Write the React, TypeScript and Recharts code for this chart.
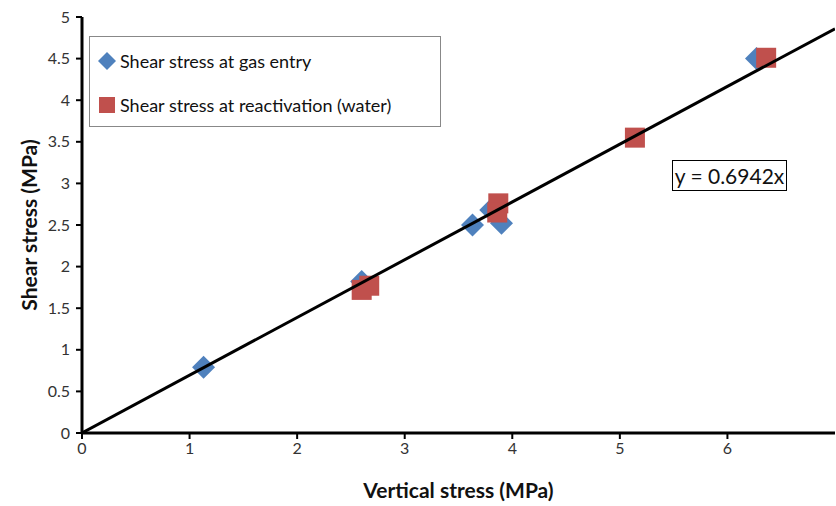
import React from 'react';
import { ScatterChart, Scatter, XAxis, YAxis } from 'recharts';

// shear stress at gas entry (vertical stress, shear stress) in MPa
const gasEntryX = [1.13, 2.6, 3.63, 3.8, 3.9, 6.27];
const gasEntryY = [0.79, 1.82, 2.5, 2.68, 2.52, 4.5];

// shear stress at reactivation (water)
const reactivationX = [2.6, 2.67, 3.87, 3.86, 5.14, 6.36];
const reactivationY = [1.72, 1.77, 2.76, 2.65, 3.55, 4.51];

// fitted line through the origin
const slope = 0.6942;
const fitX = [0, 7];

const xTicks = [0, 1, 2, 3, 4, 5, 6];
const yTicks = [0, 0.5, 1, 1.5, 2, 2.5, 3, 3.5, 4, 4.5, 5];

const BLUE = '#4F81BD';
const RED = '#C0504D';
const FONT = 'Lato, "Open Sans", sans-serif';

const gasEntry = gasEntryX.map((x, i) => ({ x, y: gasEntryY[i] }));
const reactivation = reactivationX.map((x, i) => ({ x, y: reactivationY[i] }));
const fit = fitX.map((x) => ({ x, y: slope * x }));

const Diamond = (p: any) => {
  const r = 11.5;
  return (
    <path
      d={`M${p.cx} ${p.cy - r} L${p.cx + r} ${p.cy} L${p.cx} ${p.cy + r} L${p.cx - r} ${p.cy} Z`}
      fill={BLUE}
    />
  );
};

const Square = (p: any) => <rect x={p.cx - 10} y={p.cy - 10} width={20} height={20} fill={RED} />;

function LegendBox() {
  const row = (marker: React.ReactNode, text: string) => (
    <div style={{ display: 'flex', alignItems: 'center', height: 44 }}>
      <svg width={22} height={22} style={{ marginRight: 2 }}>
        {marker}
      </svg>
      <span>{text}</span>
    </div>
  );
  return (
    <div
      style={{
        position: 'absolute',
        left: 89,
        top: 36,
        border: '1.5px solid #888',
        background: '#fff',
        width: 352,
        height: 91,
        padding: '2px 0 0 6px',
        boxSizing: 'border-box',
        fontFamily: FONT,
        fontSize: 18,
        color: '#111',
      }}
    >
      {row(<path d="M11 2 L20 11 L11 20 L2 11 Z" fill={BLUE} />, 'Shear stress at gas entry')}
      {row(<rect x={3} y={3} width={16} height={16} fill={RED} />, 'Shear stress at reactivation (water)')}
    </div>
  );
}

export default function App() {
  return (
    <div style={{ position: 'absolute', left: 0, top: 0, width: 836, height: 506, background: '#fff' }}>
      <ScatterChart width={836} height={506} margin={{ top: 17, right: 1, left: 0, bottom: 0 }}>
        <XAxis
          type="number"
          dataKey="x"
          domain={[0, 7]}
          ticks={xTicks}
          allowDataOverflow
          axisLine={{ stroke: '#000', strokeWidth: 3 }}
          tickLine={{ stroke: '#000', strokeWidth: 2 }}
          tickSize={6}
          tickMargin={4}
          tick={{ fill: '#333', fontSize: 16, fontFamily: FONT }}
          height={73}
          label={{
            value: 'Vertical stress (MPa)',
            position: 'insideBottom',
            offset: 8,
            style: { fill: '#111', fontSize: 21, fontWeight: 700, fontFamily: FONT },
          }}
        />
        <YAxis
          type="number"
          dataKey="y"
          domain={[0, 5]}
          ticks={yTicks}
          width={82}
          axisLine={{ stroke: '#000', strokeWidth: 3 }}
          tickLine={{ stroke: '#000', strokeWidth: 2 }}
          tickSize={6}
          tickMargin={6}
          tick={{ fill: '#333', fontSize: 16, fontFamily: FONT }}
          label={{
            value: 'Shear stress (MPa)',
            angle: -90,
            position: 'insideLeft',
            offset: 30,
            style: { fill: '#111', fontSize: 21, fontWeight: 700, fontFamily: FONT, textAnchor: 'middle' },
          }}
        />
        <Scatter
          name="Shear stress at gas entry"
          data={gasEntry}
          fill={BLUE}
          shape={Diamond}
          isAnimationActive={false}
        />
        <Scatter
          name="Shear stress at reactivation (water)"
          data={reactivation}
          fill={RED}
          shape={Square}
          isAnimationActive={false}
        />
        <Scatter
          name="fit"
          data={fit}
          line={{ stroke: '#000', strokeWidth: 3 }}
          shape={() => <g />}
          isAnimationActive={false}
        />
      </ScatterChart>
      <LegendBox />
      <div
        style={{
          position: 'absolute',
          left: 672,
          top: 160,
          width: 115,
          height: 31,
          border: '1.5px solid #000',
          background: '#fff',
          boxSizing: 'border-box',
          fontFamily: FONT,
          fontSize: 21,
          color: '#111',
          display: 'flex',
          alignItems: 'center',
          justifyContent: 'center',
          whiteSpace: 'nowrap',
        }}
      >
        y = 0.6942x
      </div>
    </div>
  );
}
